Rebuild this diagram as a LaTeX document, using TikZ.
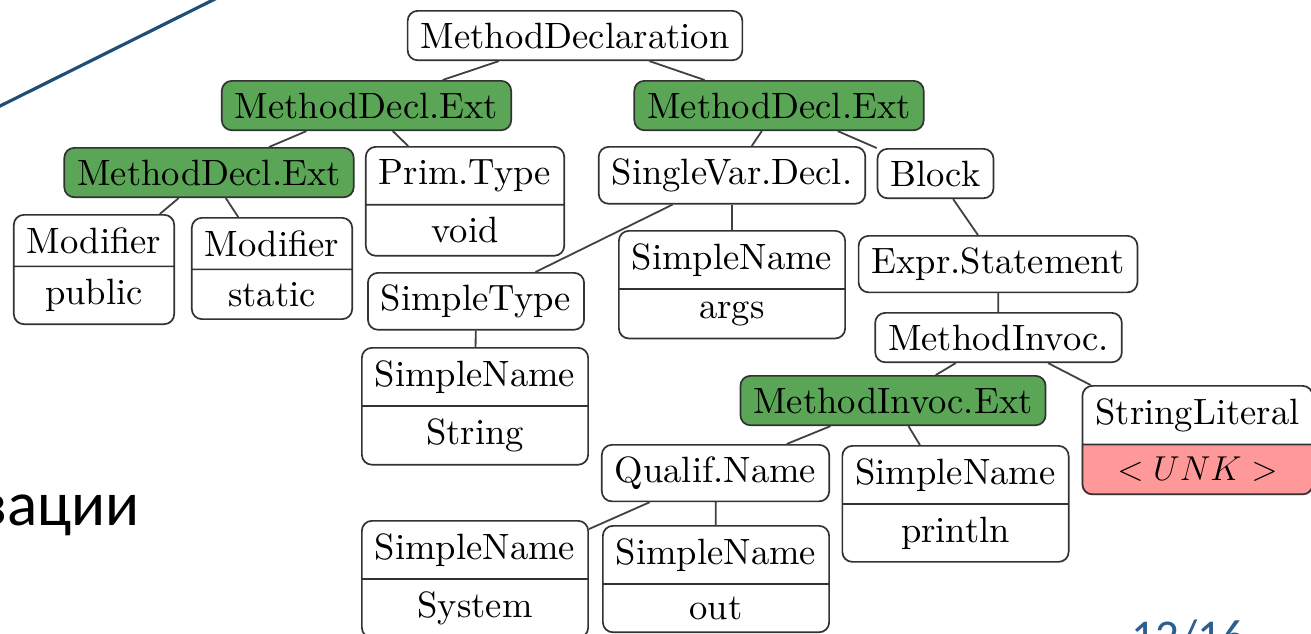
\documentclass[tikz,border=0pt]{standalone}
\usepackage{fontspec}
\setmainfont{lmroman10-regular}[Extension=.otf, ItalicFont=lmroman10-italic, BoldFont=lmroman10-bold]
\newfontfamily\rufont{Carlito}
\usetikzlibrary{shapes.multipart,backgrounds}
\definecolor{extgreen}{RGB}{90,166,86}
\definecolor{unkred}{RGB}{255,153,153}
\definecolor{bordercol}{RGB}{50,50,50}
\definecolor{edgecol}{RGB}{65,65,65}
\definecolor{slideblue}{RGB}{31,78,121}
\definecolor{numblue}{RGB}{46,95,140}
\newcommand\dfont{\fontsize{18.3}{22}\selectfont}
\tikzset{
  tbox/.style={draw=bordercol, line width=0.85pt, rounded corners=5pt, fill=white,
    inner xsep=6.5pt, inner ysep=5.9pt, font=\dfont, anchor=north},
  extbox/.style={tbox, fill=extgreen},
  splitbox/.style={tbox, rectangle split, rectangle split parts=2, rectangle split draw splits=true},
  tedge/.style={draw=edgecol, line width=0.9pt}
}
\begin{document}
\begin{tikzpicture}[x=0.5pt,y=-0.5pt]
\useasboundingbox (0,0) rectangle (1311,633);
\clip (0,0) rectangle (1311,633);

% slide decorations
\draw[slideblue, line width=1.6pt] (-10,111) -- (223,-5);
\node[font=\rufont\fontsize{31.5}{36}\selectfont, anchor=base east, inner sep=0pt] (ru) at (140,525) {зации};
\node[font=\rufont\fontsize{23.5}{28}\selectfont, anchor=base west, inner sep=0pt, text=numblue] (pg) at (1131,652) {12/16};

% tree nodes
\node[tbox] (md) at (575,10) {MethodDeclaration};
\node[extbox] (e1) at (366.5,80) {MethodDecl.Ext};
\node[extbox] (e2) at (779,80) {MethodDecl.Ext};
\node[extbox] (e3) at (209,147) {MethodDecl.Ext};
\node[splitbox] (prim) at (465,146) {Prim.Type\nodepart{two}void};
\node[tbox] (svd) at (732,146) {SingleVar.Decl.};
\node[tbox] (block) at (935.5,148) {Block};
\node[splitbox] (modpub) at (94,214) {Modifier\nodepart{two}public};
\node[splitbox] (modsta) at (272,217) {Modifier\nodepart{two}static};
\node[tbox] (stype) at (476,272) {SimpleType};
\node[splitbox] (args) at (732,230) {SimpleName\nodepart{two}args};
\node[tbox] (expr) at (998,235) {Expr.Statement};
\node[tbox] (minv) at (998.5,312) {MethodInvoc.};
\node[splitbox] (strname) at (475,347) {SimpleName\nodepart{two}String};
\node[extbox] (minvext) at (893,375) {MethodInvoc.Ext};
\node[splitbox, fill=none] (strlit) at (1197.5,385) {StringLiteral\nodepart{two}$<UNK>$};
\node[tbox] (qual) at (715.5,444) {Qualif.Name};
\node[splitbox] (println) at (955.5,445) {SimpleName\nodepart{two}println};
\node[splitbox] (system) at (475,520) {SimpleName\nodepart{two}System};
\node[splitbox] (out) at (716,525) {SimpleName\nodepart{two}out};

\begin{pgfonlayer}{background}
  \fill[white] (0,0) rectangle (1311,633);
  \begin{scope}
    \clip (strlit.text split west) rectangle ([xshift=10pt,yshift=-10pt]strlit.south east);
    \fill[unkred, rounded corners=5pt] (strlit.north west) rectangle (strlit.south east);
  \end{scope}
\end{pgfonlayer}

% edges
\draw[tedge] (md) -- (e1);
\draw[tedge] (md) -- (e2);
\draw[tedge] (e1) -- (e3);
\draw[tedge] (e1) -- (prim);
\draw[tedge] (e3) -- (modpub);
\draw[tedge] (e3) -- (modsta);
\draw[tedge] (e2) -- (svd);
\draw[tedge] (e2) -- (block);
\draw[tedge] (svd) -- (stype);
\draw[tedge] (svd) -- (args);
\draw[tedge] (stype) -- (strname);
\draw[tedge] (block) -- (expr);
\draw[tedge] (expr) -- (minv);
\draw[tedge] (minv) -- (minvext);
\draw[tedge] (minv) -- (strlit);
\draw[tedge] (minvext) -- (qual);
\draw[tedge] (minvext) -- (println);
\draw[tedge] (qual) -- (system);
\draw[tedge] (qual) -- (out);
\end{tikzpicture}
\end{document}
